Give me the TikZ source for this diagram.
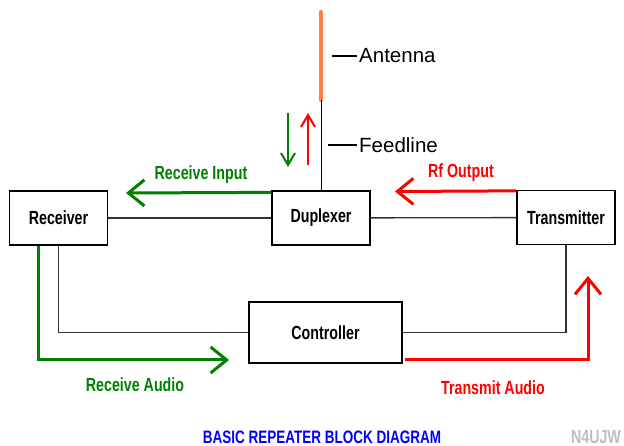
\documentclass[tikz,border=0pt]{standalone}
\usepackage{fontspec}
\setmainfont{Liberation Sans}
\newfontfamily\lbl[FakeStretch=0.75]{Liberation Sans}
\usetikzlibrary{arrows.meta}
\definecolor{rxgreen}{RGB}{0,128,0}
\definecolor{txred}{RGB}{255,0,0}
\definecolor{antorange}{RGB}{255,128,64}
\definecolor{ttlblue}{RGB}{0,0,255}
\definecolor{sigray}{RGB}{190,190,190}

\begin{document}
\begin{tikzpicture}[x=1pt,y=-1pt,
  block/.style={draw=black,line width=1.3pt,minimum width=98pt,minimum height=54pt,inner sep=0pt,
    font=\lbl\bfseries\fontsize{19}{22}\selectfont},
  wire/.style={draw=black!80,line width=1.3pt},
  sig/.style={line width=3pt,-{Straight Barb[length=16pt,width=26pt]}},
  feed/.style={line width=2pt,-{Straight Barb[length=12pt,width=14pt]}},
  lab/.style={inner sep=0pt,font=\lbl\bfseries\fontsize{19}{22}\selectfont},
  big/.style={inner sep=0pt,anchor=west,font=\fontsize{20.5}{24}\selectfont}]

\fill[white] (0,0) rectangle (624,446);
\useasboundingbox (0,0) rectangle (624,446);

%blocks
\node[block] (rx) at (58.5,218) {Receiver};
\node[block] (dup) at (321,218) {Duplexer};
\node[block] (tx) at (566,217.5) {Transmitter};
\node[block,minimum width=153pt,minimum height=61pt] (ctl) at (325.5,332.5) {Controller};

\draw[wire] (rx) -- (dup);
\draw[wire] (dup) -- (tx);
\draw[wire] (rx.south) |- (ctl.west);
\draw[wire] (ctl.east) -| (tx.south);

%antenna
\coordinate (anttop) at (321,12);
\coordinate (antbot) at (321,100);
\draw[antorange,line width=4pt,line cap=round] (anttop) -- (antbot);
\draw[black,line width=1pt] (antbot) -- (dup.north);

\node[big] (antlbl) at (359,56) {Antenna};
\draw[line width=2.5pt] ([xshift=-2pt]antlbl.west) -- ++(-25,0);
\node[big] (feedlbl) at (359,145) {Feedline};
\draw[line width=2.5pt] ([xshift=-2pt]feedlbl.west) -- ++(-29,0);

\coordinate (dnA) at (288,113);
\coordinate (dnB) at (288,167);
\coordinate (upA) at (308,165);
\coordinate (upB) at (308,113);
\draw[rxgreen,feed] (dnA) -- (dnB);
\draw[txred,feed] (upA) -- (upB);

%rf paths
\coordinate (rin) at (126,193);
\draw[rxgreen,sig] ([yshift=-2pt]dup.north west) -- (rin);
\node[lab,text=rxgreen] (rinlbl) at (201,175) {Receive Input};

\coordinate (rfo) at (395,191.5);
\draw[txred,sig] ([yshift=-1pt]tx.north west) -- (rfo);
\node[lab,text=txred] (rfolbl) at (461,173) {Rf Output};

%audio
\coordinate (raud) at (229,360);
\draw[rxgreen,sig] ([xshift=-20.5pt]rx.south) |- (raud);
\node[lab,text=rxgreen] (raudlbl) at (135,385) {Receive Audio};

\coordinate (taud) at (588,276);
\draw[txred,sig] ([yshift=-27.5pt,xshift=2pt]ctl.east) -| (taud);
\node[lab,text=txred] (taudlbl) at (493,388) {Transmit Audio};

%title
\node[lab,text=ttlblue,font=\lbl\bfseries\fontsize{18}{20}\selectfont] (title) at (322,437) {BASIC REPEATER BLOCK DIAGRAM};
\node[lab,text=sigray] (call) at (596,437) {N4UJW};

\end{tikzpicture}
\end{document}
